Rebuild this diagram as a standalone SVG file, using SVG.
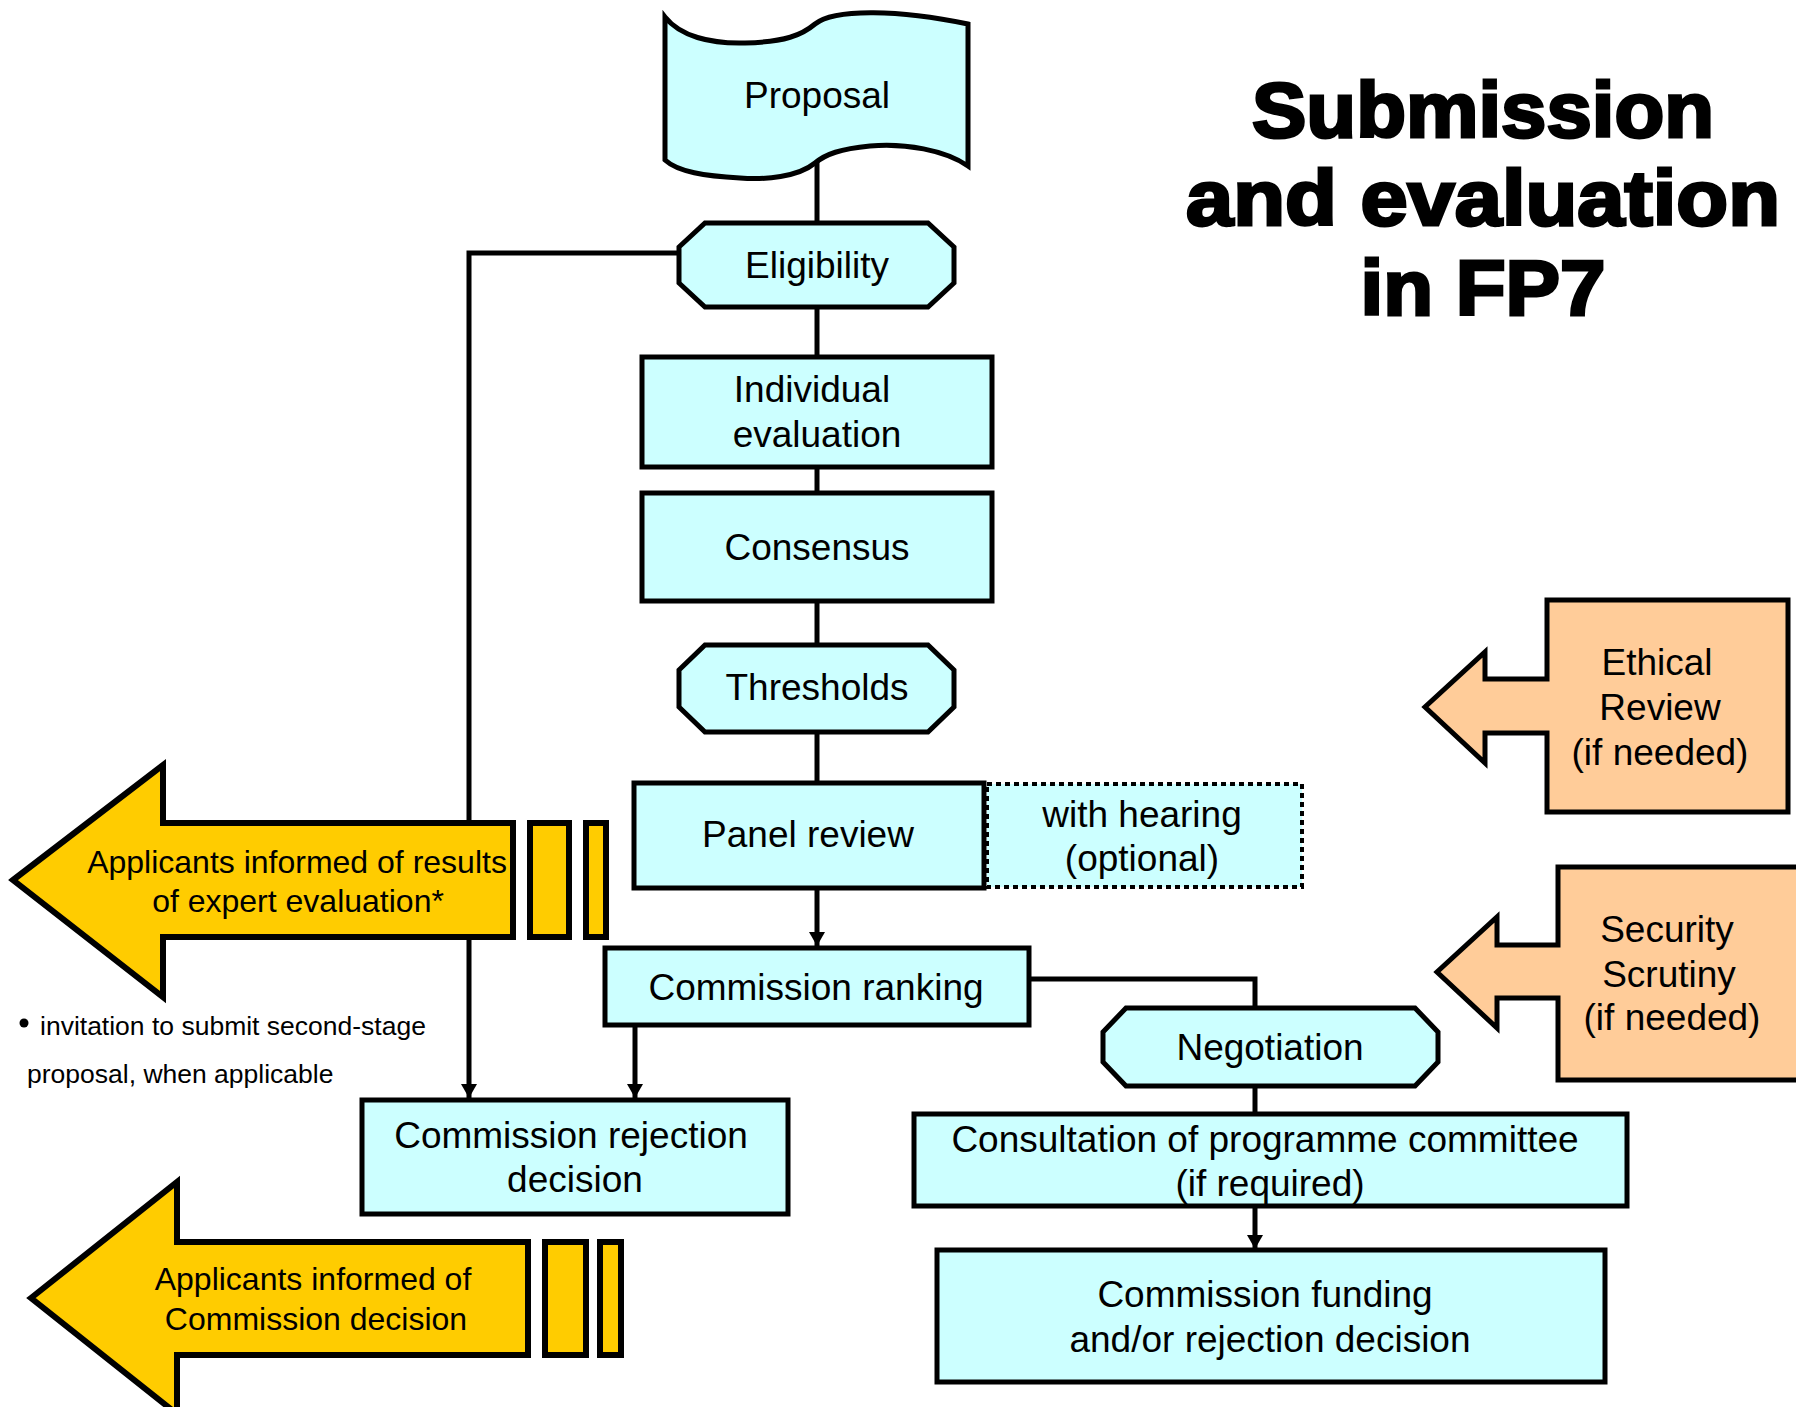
<svg xmlns="http://www.w3.org/2000/svg" width="1796" height="1407" viewBox="0 0 1796 1407">
<style>
.cy{fill:#CCFFFF;stroke:#000;stroke-width:5}
.ye{fill:#FFCC00;stroke:#000;stroke-width:6}
.or{fill:#FFCC99;stroke:#000;stroke-width:5}
.dot{fill:#CCFFFF;stroke:#000;stroke-width:4;stroke-dasharray:5 4}
.ln{fill:none;stroke:#000;stroke-width:5}
.t{font-family:"Liberation Sans",Arial,sans-serif;font-size:37px;fill:#000;text-anchor:middle}
.ty{font-family:"Liberation Sans",Arial,sans-serif;font-size:32px;fill:#000;text-anchor:middle}
.fn{font-family:"Liberation Sans",Arial,sans-serif;font-size:26.5px;fill:#000}
.ti{font-family:"Liberation Sans",Arial,sans-serif;font-size:77px;font-weight:bold;fill:#000;stroke:#000;stroke-width:3;text-anchor:middle}
</style>
<defs>
<marker id="ah" viewBox="0 0 14 16" refX="14" refY="8" markerWidth="14" markerHeight="16" markerUnits="userSpaceOnUse" orient="auto">
<path d="M0,0 L14,8 L0,16 Z" fill="#000"/>
</marker>
</defs>
<rect width="1796" height="1407" fill="#fff"/>

<g id="connectors">
<path class="ln" d="M817,160 V223"/>
<path class="ln" d="M817,307 V357"/>
<path class="ln" d="M817,467 V493"/>
<path class="ln" d="M817,601 V645"/>
<path class="ln" d="M817,732 V782"/>
<path class="ln" d="M817,888 V946" marker-end="url(#ah)"/>
<path class="ln" d="M679,253 H469 V1098" marker-end="url(#ah)"/>
<path class="ln" d="M635,1025 V1098" marker-end="url(#ah)"/>
<path class="ln" d="M1029,979 H1255 V1008"/>
<path class="ln" d="M1255,1086 V1113"/>
<path class="ln" d="M1255,1206 V1249" marker-end="url(#ah)"/>
</g>

<g id="title">
<text class="ti" x="1483" y="137" textLength="462" lengthAdjust="spacingAndGlyphs">Submission</text>
<text class="ti" x="1483" y="225" textLength="594" lengthAdjust="spacingAndGlyphs">and evaluation</text>
<text class="ti" x="1483" y="315" textLength="245" lengthAdjust="spacingAndGlyphs">in FP7</text>
</g>

<g id="proposal">
<path class="cy" d="M665,17 C680,36 710,44 745,43 C785,42 802,35 815,24 C835,8 900,10 968,24 L968,166 C945,150 905,143 870,146 C840,149 826,154 815,163 C798,177 765,180 740,178 C705,176 678,172 665,160 Z"/>
<text class="t" x="817" y="108">Proposal</text>
</g>

<g id="eligibility">
<path class="cy" d="M705,223 H928 L954,247 V283 L928,307 H705 L679,283 V247 Z"/>
<text class="t" x="817" y="278">Eligibility</text>
</g>

<g id="individual">
<rect class="cy" x="642" y="357" width="350" height="110"/>
<text class="t" x="812" y="402">Individual</text>
<text class="t" x="817" y="447">evaluation</text>
</g>

<g id="consensus">
<rect class="cy" x="642" y="493" width="350" height="108"/>
<text class="t" x="817" y="560">Consensus</text>
</g>

<g id="thresholds">
<path class="cy" d="M705,645 H928 L954,670 V707 L928,732 H705 L679,707 V670 Z"/>
<text class="t" x="817" y="700">Thresholds</text>
</g>

<g id="hearing">
<rect class="dot" x="987" y="784" width="315" height="103"/>
<text class="t" x="1142" y="827">with hearing</text>
<text class="t" x="1142" y="871">(optional)</text>
</g>

<g id="panel">
<rect class="cy" x="634" y="783" width="350" height="105"/>
<text class="t" x="808" y="847">Panel review</text>
</g>

<g id="ranking">
<rect class="cy" x="605" y="948" width="424" height="77"/>
<text class="t" x="816" y="1000">Commission ranking</text>
</g>

<g id="rejection">
<rect class="cy" x="362" y="1100" width="426" height="114"/>
<text class="t" x="571" y="1148">Commission rejection</text>
<text class="t" x="575" y="1192">decision</text>
</g>

<g id="negotiation">
<path class="cy" d="M1126,1008 H1415 L1438,1032 V1062 L1415,1086 H1126 L1103,1062 V1032 Z"/>
<text class="t" x="1270" y="1060">Negotiation</text>
</g>

<g id="consultation">
<rect class="cy" x="914" y="1114" width="713" height="92"/>
<text class="t" x="1265" y="1152">Consultation of programme committee</text>
<text class="t" x="1270" y="1196">(if required)</text>
</g>

<g id="funding">
<rect class="cy" x="937" y="1250" width="668" height="132"/>
<text class="t" x="1265" y="1307">Commission funding</text>
<text class="t" x="1270" y="1352">and/or rejection decision</text>
</g>

<g id="ethical">
<path class="or" d="M1547,600 H1788 V812 H1547 V733 H1485 V763 L1425,707 L1485,652 V679 H1547 Z"/>
<text class="t" x="1657" y="675">Ethical</text>
<text class="t" x="1660" y="720">Review</text>
<text class="t" x="1660" y="765">(if needed)</text>
</g>

<g id="security">
<path class="or" d="M1558,867 H1810 V1080 H1558 V998 H1497 V1028 L1437,972 L1497,917 V945 H1558 Z"/>
<text class="t" x="1667" y="942">Security</text>
<text class="t" x="1669" y="987">Scrutiny</text>
<text class="t" x="1672" y="1030">(if needed)</text>
</g>

<g id="informed-results">
<path class="ye" d="M13,880 L163,765 V823 H513 V937 H163 V997 Z"/>
<rect class="ye" x="530" y="823" width="39" height="114"/>
<rect class="ye" x="586" y="823" width="20" height="114"/>
<text class="ty" x="297" y="873">Applicants informed of results</text>
<text class="ty" x="298" y="912">of expert evaluation*</text>
</g>

<g id="footnote">
<circle cx="24" cy="1023" r="4.5" fill="#000"/>
<text class="fn" x="40" y="1035">invitation to submit second-stage</text>
<text class="fn" x="27" y="1083">proposal, when applicable</text>
</g>

<g id="informed-decision">
<path class="ye" d="M31,1298 L177,1182 V1242 H528 V1355 H177 V1414 Z"/>
<rect class="ye" x="545" y="1242" width="41" height="113"/>
<rect class="ye" x="600" y="1242" width="21" height="113"/>
<text class="ty" x="313" y="1290">Applicants informed of</text>
<text class="ty" x="316" y="1330">Commission decision</text>
</g>
</svg>
